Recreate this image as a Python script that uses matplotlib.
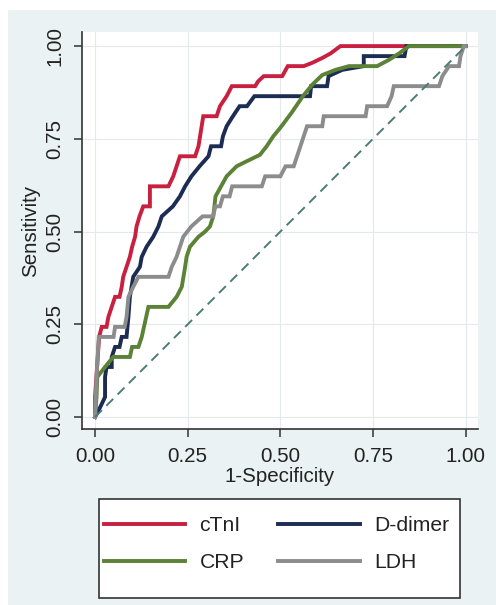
import matplotlib
matplotlib.use("Agg")
import matplotlib.pyplot as plt
from matplotlib.patches import Rectangle

plt.rcParams['font.family'] = ['Liberation Sans', 'DejaVu Sans']

# ROC points (1-specificity, sensitivity)
ctni_x = [0, 0, 0.011, 0.018, 0.031, 0.036, 0.045, 0.054, 0.066, 0.072, 0.076, 0.085, 0.094, 0.100,
          0.108, 0.112, 0.120, 0.130, 0.148, 0.148, 0.198, 0.211, 0.220, 0.229, 0.270, 0.279, 0.292,
          0.328, 0.337, 0.355, 0.369, 0.432, 0.440, 0.455, 0.505, 0.520, 0.563, 0.586, 0.613, 0.635,
          0.662, 1.0]
ctni_y = [0, 0.054, 0.216, 0.243, 0.243, 0.270, 0.297, 0.324, 0.324, 0.351, 0.378, 0.405, 0.432, 0.459,
          0.486, 0.514, 0.541, 0.568, 0.568, 0.622, 0.622, 0.649, 0.676, 0.703, 0.703, 0.730, 0.811,
          0.811, 0.838, 0.865, 0.892, 0.892, 0.905, 0.919, 0.919, 0.946, 0.946, 0.955, 0.968, 0.980,
          1.0, 1.0]

ddimer_x = [0, 0.014, 0.027, 0.027, 0.031, 0.045, 0.045, 0.054, 0.066, 0.072, 0.085, 0.090, 0.094,
            0.103, 0.121, 0.126, 0.139, 0.157, 0.171, 0.180, 0.210, 0.229, 0.243, 0.260, 0.282, 0.306,
            0.313, 0.340, 0.345, 0.355, 0.372, 0.390, 0.410, 0.430, 0.580, 0.583, 0.626, 0.630, 0.667,
            0.725, 0.725, 0.835, 0.840, 1.0]
ddimer_y = [0, 0.027, 0.054, 0.108, 0.135, 0.135, 0.162, 0.189, 0.189, 0.216, 0.216, 0.270, 0.324,
            0.378, 0.405, 0.432, 0.459, 0.486, 0.514, 0.541, 0.568, 0.595, 0.622, 0.649, 0.676, 0.703,
            0.730, 0.730, 0.757, 0.784, 0.811, 0.838, 0.838, 0.865, 0.865, 0.892, 0.892, 0.919, 0.936,
            0.946, 0.973, 0.973, 1.0, 1.0]

crp_x = [0, 0.004, 0.006, 0.027, 0.049, 0.094, 0.100, 0.117, 0.126, 0.144, 0.198, 0.220, 0.234,
         0.243, 0.247, 0.256, 0.279, 0.297, 0.310, 0.319, 0.325, 0.340, 0.355, 0.382, 0.410, 0.445,
         0.463, 0.481, 0.500, 0.530, 0.560, 0.586, 0.613, 0.649, 0.685, 0.761, 0.793, 0.820, 0.847, 1.0]
crp_y = [0, 0.054, 0.108, 0.135, 0.162, 0.162, 0.189, 0.189, 0.216, 0.297, 0.297, 0.324, 0.351,
         0.405, 0.432, 0.459, 0.486, 0.500, 0.514, 0.541, 0.595, 0.622, 0.649, 0.676, 0.690, 0.707,
         0.730, 0.757, 0.780, 0.820, 0.864, 0.896, 0.922, 0.936, 0.946, 0.946, 0.963, 0.980, 1.0, 1.0]

ldh_x = [0, 0.004, 0.010, 0.050, 0.054, 0.080, 0.085, 0.090, 0.103, 0.117, 0.198, 0.207, 0.220,
         0.229, 0.238, 0.260, 0.290, 0.318, 0.325, 0.337, 0.345, 0.363, 0.370, 0.450, 0.459, 0.500,
         0.514, 0.536, 0.554, 0.563, 0.572, 0.613, 0.617, 0.730, 0.734, 0.788, 0.800, 0.806, 0.928,
         0.937, 0.955, 0.982, 0.986, 0.995, 1.0]
ldh_y = [0, 0.108, 0.216, 0.216, 0.243, 0.243, 0.270, 0.324, 0.351, 0.378, 0.378, 0.405, 0.432,
         0.459, 0.486, 0.514, 0.541, 0.541, 0.568, 0.568, 0.595, 0.595, 0.622, 0.622, 0.649, 0.649,
         0.676, 0.676, 0.730, 0.757, 0.784, 0.784, 0.811, 0.811, 0.838, 0.838, 0.865, 0.892, 0.892,
         0.919, 0.946, 0.946, 0.973, 1.0, 1.0]

ref_x = [0, 1]
ref_y = [0, 1]

labels = ['cTnI', 'D-dimer', 'CRP', 'LDH']
colors = ['#C8203F', '#1C2C52', '#5B8236', '#8C8C8C']
ticks = [0, 0.25, 0.5, 0.75, 1.0]

W, H = 496, 605
fig = plt.figure(figsize=(W / 100, H / 100), dpi=100)
fig.patch.set_facecolor('white')
fig.patches.append(Rectangle((8 / W, 0), (W - 8) / W, (H - 10) / H, transform=fig.transFigure,
                             facecolor='#EAF2F3', edgecolor='none', zorder=-10))

ax = fig.add_axes([81.7 / W, 1 - 429.3 / H, (478.3 - 81.7) / W, (429.3 - 32) / H])
ax.set_facecolor('white')

series = [(ctni_x, ctni_y), (ddimer_x, ddimer_y), (crp_x, crp_y), (ldh_x, ldh_y)]
handles = []
for (xs, ys), lab, c in zip(series, labels, colors):
    h, = ax.plot(xs, ys, color=c, lw=2.8, label=lab, solid_joinstyle='miter', zorder=3)
    handles.append(h)
ax.plot(ref_x, ref_y, color='#4E7B74', lw=1.4, dashes=(5, 3.2), zorder=4)

ax.set_xlim(-0.036, 1.034)
ax.set_ylim(-0.033, 1.038)
ax.set_xticks(ticks)
ax.set_yticks(ticks)
ax.set_xticklabels(['%.2f' % t for t in ticks])
ax.set_yticklabels(['%.2f' % t for t in ticks])
ax.grid(True, color='#E4EAEC', lw=0.8, zorder=0)
ax.set_axisbelow(True)
for s in ['top', 'right']:
    ax.spines[s].set_visible(False)
for s in ['left', 'bottom']:
    ax.spines[s].set_color('#333333')
    ax.spines[s].set_linewidth(1.2)
ax.tick_params(direction='out', length=5.5, width=1.1, color='#333333',
               labelsize=14.8, labelcolor='#222222', pad=7)
for lab in ax.get_yticklabels():
    lab.set_rotation(90)
    lab.set_va('center')
ax.set_xlabel('1-Specificity', fontsize=14.8, color='#222222', labelpad=1)
ax.set_ylabel('Sensitivity', fontsize=14.8, color='#222222', labelpad=4)

# legend box drawn separately (contents sit higher than centre, Stata style)
fig.patches.append(Rectangle((99 / W, 1 - 598 / H), 361 / W, 99 / H, transform=fig.transFigure,
                             facecolor='white', edgecolor='#333333', lw=1.2, zorder=1))
order = [0, 2, 1, 3]
leg = fig.legend([handles[i] for i in order], [labels[i] for i in order], ncol=2,
                 loc='center', bbox_to_anchor=(276.5 / W, 1 - 544 / H), frameon=False,
                 fontsize=15.2, handlelength=3.85, handletextpad=0.67, columnspacing=1.63,
                 labelspacing=0.85, borderpad=0)
for t in leg.get_texts():
    t.set_color('#222222')
leg.set_zorder(2)

fig.savefig('out.png', dpi=100)
